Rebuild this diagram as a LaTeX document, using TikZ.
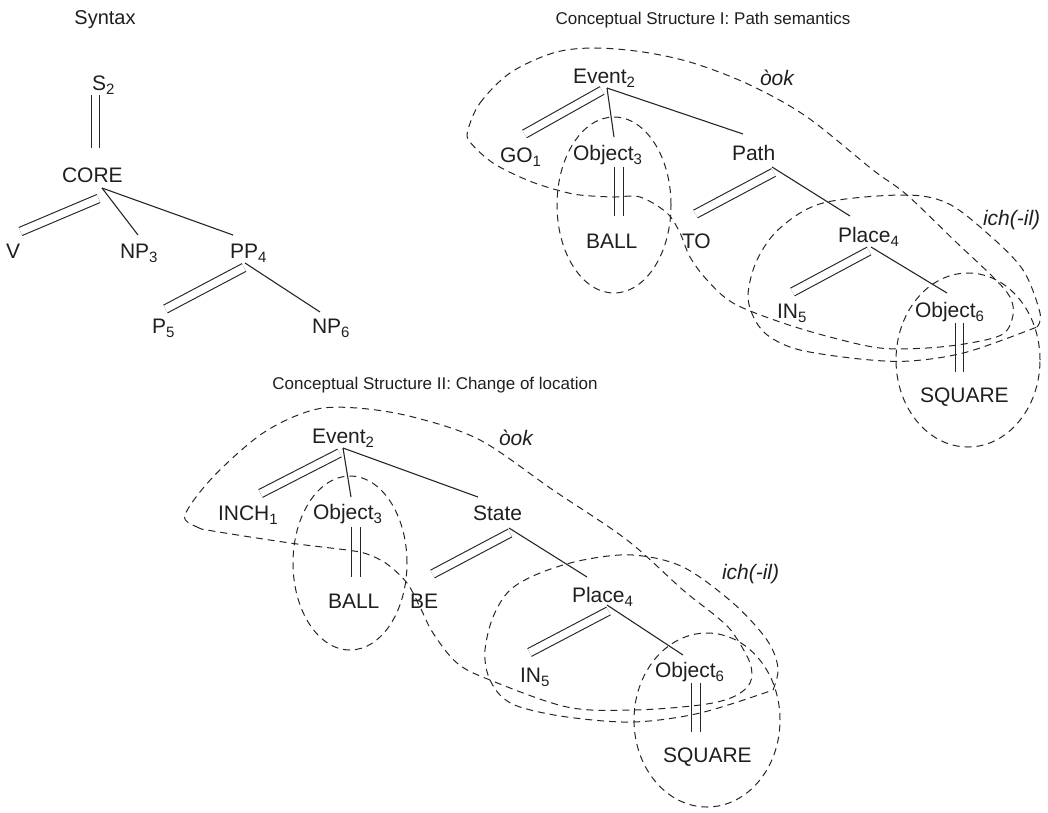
\documentclass[tikz,border=0pt]{standalone}
\usepackage{fontspec}
\setmainfont{Liberation Sans}
\newcommand\sbs[1]{\raisebox{-4pt}{\fontsize{15}{15}\selectfont #1}}
\begin{document}
\begin{tikzpicture}[x=1pt,y=-1pt,
  lbl/.style={inner sep=0pt,outer sep=0pt,anchor=base west,font=\fontsize{21}{25}\selectfont,text=black!88},
  ttl/.style={lbl,anchor=base,font=\fontsize{17}{21}\selectfont},
  itl/.style={lbl,font=\fontsize{21}{25}\selectfont\itshape},
  branch/.style={line width=1.1pt,black!85},
  dbl/.style={line width=1.1pt,draw=black!85,double=white,double distance=7.5pt},
  blob/.style={line width=1pt,black!85,dash pattern=on 7pt off 5pt},
]
\useasboundingbox (0,0) rectangle (1048,812);

% ---------------- Syntax ----------------
\node[ttl,font=\fontsize{20}{24}\selectfont] (syn) at (105,24) {Syntax};
\node[lbl] (s2) at (92,90) {S\sbs{2}};
\node[lbl] (core) at (62,182) {CORE};
\node[lbl] (v) at (6,258) {V};
\node[lbl] (np3) at (120,258) {NP\sbs{3}};
\node[lbl] (pp4) at (230,258) {PP\sbs{4}};
\node[lbl] (p5) at (152,333) {P\sbs{5}};
\node[lbl] (np6) at (312,333) {NP\sbs{6}};

\coordinate (s2b) at (95.5,95);  \coordinate (coret) at (95.5,148);
\coordinate (cored) at (98.5,198.5); \coordinate (vt) at (20.5,231.5);
\coordinate (corea) at (102,188); \coordinate (np3t) at (138,235); \coordinate (pp4t) at (233,235);
\coordinate (pp4d) at (244,267.5); \coordinate (p5t) at (165.5,309);
\coordinate (pp4a) at (245,263); \coordinate (np6t) at (320,312);
\draw[dbl] (s2b) -- (coret);
\draw[dbl] (cored) -- (vt);
\draw[branch] (corea) -- (np3t);
\draw[branch] (corea) -- (pp4t);
\draw[dbl] (pp4d) -- (p5t);
\draw[branch] (pp4a) -- (np6t);

% ---------------- Conceptual Structure I ----------------
\node[ttl] (t1) at (703,24) {Conceptual Structure I: Path semantics};
\node[lbl] (ev1) at (573,83) {Event\sbs{2}};
\node[lbl] (go1) at (500,162) {GO\sbs{1}};
\node[lbl] (obc1) at (573,160) {Object\sbs{3}};
\node[lbl] (pa1) at (732,160) {Path};
\node[lbl] (ba1) at (586,248) {BALL};
\node[lbl] (to1) at (682,248) {TO};
\node[lbl] (pl1) at (838,242) {Place\sbs{4}};
\node[lbl] (in1) at (777,318) {IN\sbs{5}};
\node[lbl] (obf1) at (915,317) {Object\sbs{6}};
\node[lbl] (sq1) at (920,402) {SQUARE};
\node[itl] (ook1) at (760,85) {òok};
\node[itl] (ich1) at (983,225) {ich(-il)};

\coordinate (ev1d) at (602,90.5); \coordinate (go1t) at (524.5,134);
\coordinate (ev1a) at (607,88); \coordinate (obc1t) at (614,137); \coordinate (pa1t) at (743,134);
\coordinate (obc1b) at (619,167); \coordinate (ba1t) at (619,216);
\coordinate (pa1d) at (773.5,172.5); \coordinate (to1t) at (695.5,214);
\coordinate (pa1a) at (772,167); \coordinate (pl1t) at (850,216);
\coordinate (pl1d) at (869,251); \coordinate (in1t) at (792.5,292);
\coordinate (pl1a) at (871,247); \coordinate (obf1t) at (947,293);
\coordinate (obf1b) at (959.5,323); \coordinate (sq1t) at (959.5,372);
\draw[dbl] (ev1d) -- (go1t);
\draw[branch] (ev1a) -- (obc1t);
\draw[branch] (ev1a) -- (pa1t);
\draw[dbl] (obc1b) -- (ba1t);
\draw[dbl] (pa1d) -- (to1t);
\draw[branch] (pa1a) -- (pl1t);
\draw[dbl] (pl1d) -- (in1t);
\draw[branch] (pl1a) -- (obf1t);
\draw[dbl] (obf1b) -- (sq1t);

% loops I
\draw[blob] (614,205) ellipse [x radius=57pt, y radius=88pt];
\draw[blob] (968,360) ellipse [x radius=72pt, y radius=87pt];
\draw[blob] plot[smooth cycle, tension=0.55] coordinates {
 (468,130) (480,103) (510,73) (553,53) (593,48) (643,52) (693,63) (750,85)
 (807,117) (873,170) (907,195) (957,243) (993,277) (1010,297) (1013,315)
 (1003,334) (970,343) (927,348) (880,348) (830,337) (780,322) (733,303)
 (707,280) (690,257) (680,233) (667,213) (640,197) (613,197) (580,195)
 (557,190) (527,180) (493,163) (470,142)};
\draw[blob] plot[smooth, tension=0.55] coordinates {
 (1037,327) (1040,313) (1023,270) (987,233) (947,203) (903,195) (823,203)
 (780,228) (757,260) (748,295) (755,320) (770,337) (800,350) (860,359)
 (910,361) (967,352) (1037,327)};

% ---------------- Conceptual Structure II ----------------
\node[ttl] (t2) at (435,389) {Conceptual Structure II: Change of location};
\node[lbl] (ev2) at (312,443) {Event\sbs{2}};
\node[lbl] (inch2) at (218,520) {INCH\sbs{1}};
\node[lbl] (obc2) at (313,519) {Object\sbs{3}};
\node[lbl] (st2) at (473,520) {State};
\node[lbl] (ba2) at (328,608) {BALL};
\node[lbl] (be2) at (410,608) {BE};
\node[lbl] (pl2) at (572,602) {Place\sbs{4}};
\node[lbl] (in2) at (520,682) {IN\sbs{5}};
\node[lbl] (obf2) at (655,677) {Object\sbs{6}};
\node[lbl] (sq2) at (663,762) {SQUARE};
\node[itl] (ook2) at (499,445) {òok};
\node[itl] (ich2) at (722,579) {ich(-il)};

\coordinate (ev2d) at (339.5,453); \coordinate (inch2t) at (260.5,493.5);
\coordinate (ev2a) at (343,448); \coordinate (obc2t) at (351,497); \coordinate (st2t) at (478,497);
\coordinate (obc2b) at (356,527); \coordinate (ba2t) at (356,577);
\coordinate (st2d) at (510,533); \coordinate (be2t) at (432.5,574);
\coordinate (st2a) at (509,528); \coordinate (pl2t) at (587,577);
\coordinate (pl2d) at (608.5,611); \coordinate (in2t) at (529.5,652.5);
\coordinate (pl2a) at (607,605); \coordinate (obf2t) at (683,655);
\coordinate (obf2b) at (696,683); \coordinate (sq2t) at (696,732);
\draw[dbl] (ev2d) -- (inch2t);
\draw[branch] (ev2a) -- (obc2t);
\draw[branch] (ev2a) -- (st2t);
\draw[dbl] (obc2b) -- (ba2t);
\draw[dbl] (st2d) -- (be2t);
\draw[branch] (st2a) -- (pl2t);
\draw[dbl] (pl2d) -- (in2t);
\draw[branch] (pl2a) -- (obf2t);
\draw[dbl] (obf2b) -- (sq2t);

% loops II
\draw[blob] (350,563) ellipse [x radius=57pt, y radius=87pt];
\draw[blob] (707,720) ellipse [x radius=73pt, y radius=87pt];
\draw[blob] plot[smooth cycle, tension=0.55] coordinates {
 (185,515) (197,527) (213,531) (290,543) (347,550) (367,554) (387,564)
 (407,583) (420,607) (433,633) (457,663) (490,680) (567,707) (633,710)
 (700,705) (733,697) (750,683) (750,663) (733,633) (717,617) (683,590)
 (627,540) (553,490) (480,440) (413,417) (357,408) (313,410) (263,433)
 (213,477)};
\draw[blob] plot[smooth, tension=0.55] coordinates {
 (773,690) (778,668) (767,640) (733,603) (683,567) (633,555) (583,560)
 (540,573) (510,590) (493,617) (485,650) (488,675) (500,695) (520,707)
 (567,717) (633,722) (700,713) (773,690)};
\end{tikzpicture}
\end{document}
